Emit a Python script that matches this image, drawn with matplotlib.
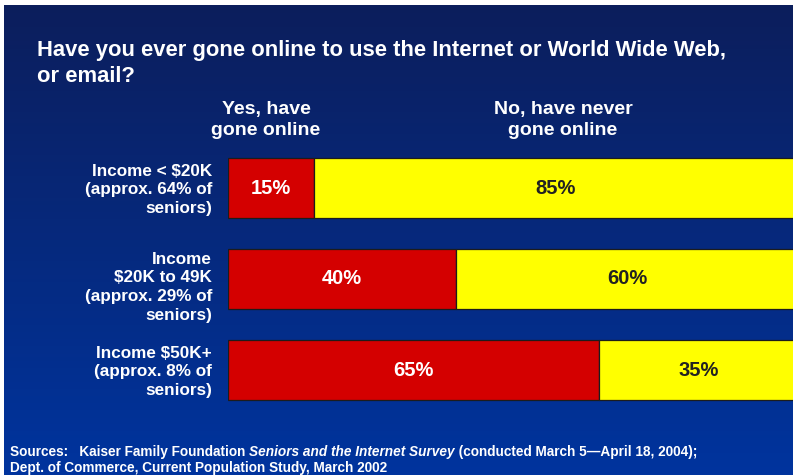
import numpy as np
import matplotlib
matplotlib.use("Agg")
import matplotlib.pyplot as plt

groups = [
    "Income < $20K\n(approx. 64% of\nseniors)",
    "Income\n$20K to 49K\n(approx. 29% of\nseniors)",
    "Income $50K+\n(approx. 8% of\nseniors)",
]
yes_online = [15, 40, 65]
never_online = [85, 60, 35]

W, H = 793, 475
plt.rcParams['font.family'] = ['Liberation Sans', 'DejaVu Sans']
fig = plt.figure(figsize=(W / 100, H / 100), dpi=100, facecolor="white")


def px_box(left, top, right, bottom):
    # pixel box (from top-left) -> figure fraction rect
    return [left / W, 1 - bottom / H, (right - left) / W, (bottom - top) / H]


# slide background: dark navy at the top fading to royal blue
bg = fig.add_axes(px_box(4, 5, W, H))
top_c = np.array([12, 30, 92]) / 255
bot_c = np.array([0, 52, 158]) / 255
t = np.linspace(0, 1, 256)[:, None, None]
grad = top_c * (1 - t) + bot_c * t
bg.imshow(np.repeat(grad, 2, axis=1), aspect="auto", extent=[0, 1, 0, 1])
bg.axis("off")

# stacked bars
ax = fig.add_axes(px_box(228, 150, 798, 410))
ax.set_facecolor("none")
y = np.arange(len(groups))
ax.barh(y, yes_online, height=0.65, color="#d40000", edgecolor="#1c1c1c", linewidth=0.9)
ax.barh(y, never_online, left=yes_online, height=0.65, color="#ffff00",
        edgecolor="#1c1c1c", linewidth=0.9)
ax.set_xlim(0, 100)
ax.set_ylim(2 + 40 / 91, -38 / 91)
ax.axis("off")

for i in range(len(groups)):
    ax.text(yes_online[i] / 2, i, f"{yes_online[i]}%", ha="center", va="center",
            color="white", fontsize=14.5, fontweight="bold")
    ax.text(yes_online[i] + never_online[i] / 2, i, f"{never_online[i]}%",
            ha="center", va="center", color="#222222", fontsize=14.5, fontweight="bold")
    # the four-line label sits a little low next to its bar
    dy = 0.09 if groups[i].count("\n") == 3 else 0.02
    ax.text(-16 / 5.7, i + dy, groups[i], ha="right", va="center", color="white",
            fontsize=12.3, fontweight="bold", linespacing=1.3)

# title and column headers
fig.text(37 / W, 1 - 40 / H, "Have you ever gone online to use the Internet or World Wide Web,\nor email?",
         ha="left", va="top", color="white", fontsize=15.8, fontweight="bold", linespacing=1.32)
fig.text(266 / W, 1 - 120 / H, "Yes, have\ngone online", ha="center", va="center",
         color="white", fontsize=14, fontweight="bold", linespacing=1.38)
fig.text(563 / W, 1 - 120 / H, "No, have never\ngone online", ha="center", va="center",
         color="white", fontsize=14, fontweight="bold", linespacing=1.38)

# source note with italic survey name
fig.canvas.draw()
renderer = fig.canvas.get_renderer()
pieces = [
    ("Sources:   Kaiser Family Foundation ", "normal"),
    ("Seniors and the Internet Survey", "italic"),
    (" (conducted March 5\u2014April 18, 2004);", "normal"),
]
x = 10
for s, style in pieces:
    tx = fig.text(x / W, 1 - 452 / H, s, ha="left", va="center", color="white",
                  fontsize=9.8, fontweight="bold", fontstyle=style)
    x += tx.get_window_extent(renderer).width
fig.text(10 / W, 1 - 468 / H, "Dept. of Commerce, Current Population Study, March 2002",
         ha="left", va="center", color="white", fontsize=9.8, fontweight="bold")

fig.savefig("out.png", dpi=100, facecolor=fig.get_facecolor())
